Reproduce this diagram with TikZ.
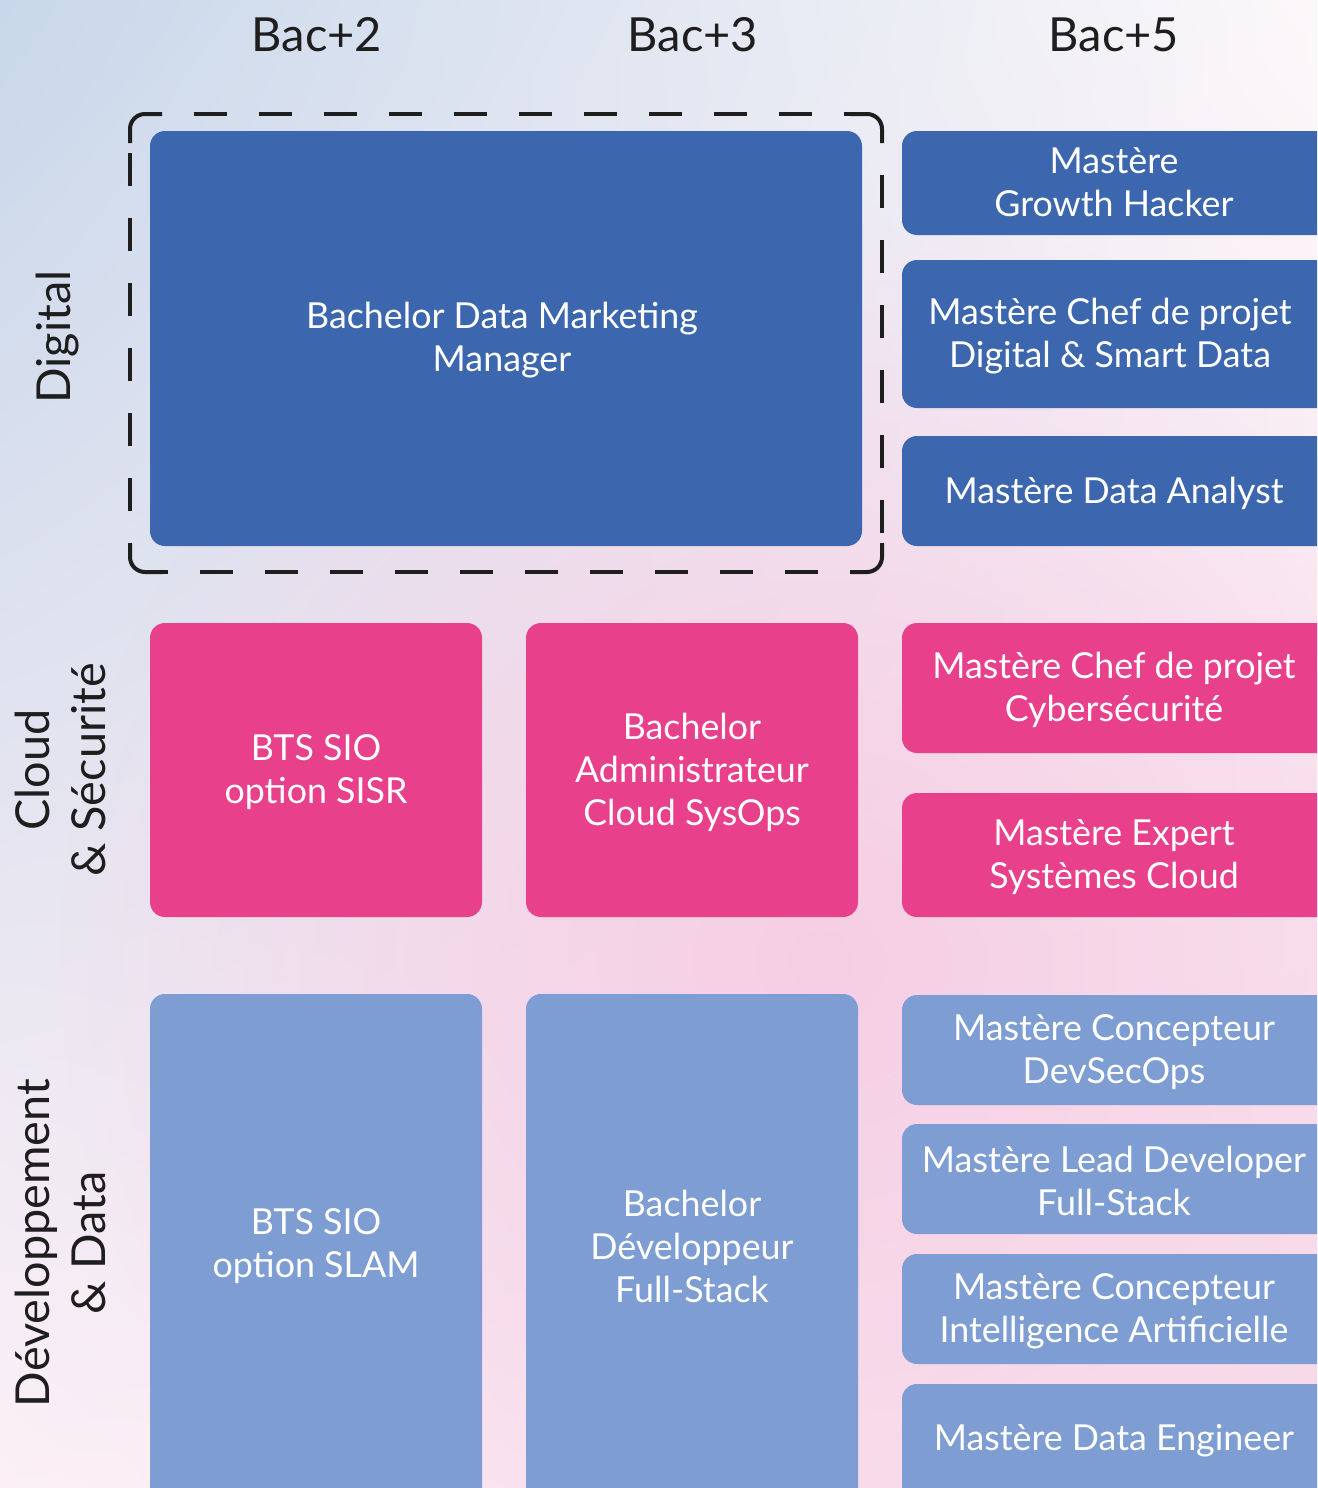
\documentclass[tikz,border=0pt]{standalone}
\usepackage{fontspec}
\setmainfont{Lato}
\usetikzlibrary{shadings,fadings}
\definecolor{dblue}{HTML}{3C66AE}
\definecolor{mpink}{HTML}{E8408A}
\definecolor{lblue}{HTML}{7E9DD2}
\definecolor{ink}{HTML}{1E1E1E}
\definecolor{bgTL}{HTML}{C8D7EA}
\definecolor{bgTR}{HTML}{FCF8FA}
\definecolor{bgBL}{HTML}{FCF0F6}
\definecolor{bgBR}{HTML}{F8DAEA}
\definecolor{bgPink}{HTML}{F7CEE4}
\tikzfading[name=radfade, inner color=transparent!0, outer color=transparent!100]
\begin{document}
\begin{tikzpicture}[x=0.5pt,y=-0.5pt,
  card/.style={rounded corners=7.5pt},
  cardtext/.style={text=white,align=center,inner sep=0pt,font=\fontsize{17.9}{21.5}\selectfont},
  head/.style={text=ink,inner sep=0pt,font=\fontsize{23.5}{28}\selectfont},
  side/.style={text=ink,inner sep=0pt,align=center,rotate=90,font=\fontsize{23.4}{28}\selectfont},
  frame/.style={ink,line width=2pt},
  framedash/.style={frame,dash pattern=on 16.5pt off 16pt,dash phase=16.5pt}]
\useasboundingbox (0,0) rectangle (1317,1488);
\clip (0,0) rectangle (1317,1488);
\shade[upper left=bgTL, upper right=bgTR, lower left=bgBL, lower right=bgBR] (0,0) rectangle (1317,1488);
\fill[bgPink, path fading=radfade] (820,960) circle (760);

% headers
\node[head] (h2) at (317,35) {Bac+2};
\node[head] (h3) at (693,35) {Bac+3};
\node[head] (h5) at (1114,35) {Bac+5};

% side labels
\node[side] (sDig) at (58,337) {Digital};
\node[side] (sCloud) at (60,770) {Cloud\\\& Sécurité};
\node[side] (sDev) at (60,1243) {Développement\\\& Data};

% dashed frame round the Digital Bachelor
\draw[frame,rounded corners=7.5pt] (130,143) |- (162,114);
\draw[frame,rounded corners=7.5pt] (850,114) -| (882,143);
\draw[frame,rounded corners=7.5pt] (882,543) |- (850,572);
\draw[frame,rounded corners=7.5pt] (162,572) -| (130,543);
\draw[framedash] (162,114) -- (850,114);
\draw[framedash] (882,143) -- (882,543);
\draw[framedash] (850,572) -- (162,572);
\draw[framedash] (130,543) -- (130,143);

% Digital row
\fill[dblue,card] (150,131) rectangle (862,546);
\node[cardtext] (bdm) at (502,340) {Bachelor Data Marketing\\Manager};
\fill[dblue,card] (902,131) rectangle (1345,235);
\node[cardtext] (mgh) at (1114,182) {Mastère\\Growth Hacker};
\fill[dblue,card] (902,260) rectangle (1345,408);
\node[cardtext] (mcpd) at (1110,336) {Mastère Chef de projet\\Digital \& Smart Data};
\fill[dblue,card] (902,436) rectangle (1345,546);
\node[cardtext] (mda) at (1114,493) {Mastère Data Analyst};

% Cloud row
\fill[mpink,card] (150,623) rectangle (482,917);
\node[cardtext] (sisr) at (316,772) {BTS SIO\\option SISR};
\fill[mpink,card] (526,623) rectangle (858,917);
\node[cardtext] (bac) at (692,772) {Bachelor\\Administrateur\\Cloud SysOps};
\fill[mpink,card] (902,623) rectangle (1345,753);
\node[cardtext] (mcpc) at (1114,690) {Mastère Chef de projet\\Cybersécurité};
\fill[mpink,card] (902,793) rectangle (1345,917);
\node[cardtext] (mesc) at (1114,857) {Mastère Expert\\Systèmes Cloud};

% Dev row
\fill[lblue,card] (150,994) rectangle (482,1520);
\node[cardtext] (slam) at (316,1246) {BTS SIO\\option SLAM};
\fill[lblue,card] (526,994) rectangle (858,1520);
\node[cardtext] (bdfs) at (692,1246) {Bachelor\\Développeur\\Full-Stack};
\fill[lblue,card] (902,995) rectangle (1345,1105);
\node[cardtext] (mcds) at (1114,1052) {Mastère Concepteur\\DevSecOps};
\fill[lblue,card] (902,1124) rectangle (1345,1234);
\node[cardtext] (mldf) at (1114,1181) {Mastère Lead Developer\\Full-Stack};
\fill[lblue,card] (902,1254) rectangle (1345,1364);
\node[cardtext] (mcia) at (1114,1311) {Mastère Concepteur\\Intelligence Artificielle};
\fill[lblue,card] (902,1384) rectangle (1345,1520);
\node[cardtext] (mde) at (1114,1441) {Mastère Data Engineer};
\end{tikzpicture}
\end{document}
